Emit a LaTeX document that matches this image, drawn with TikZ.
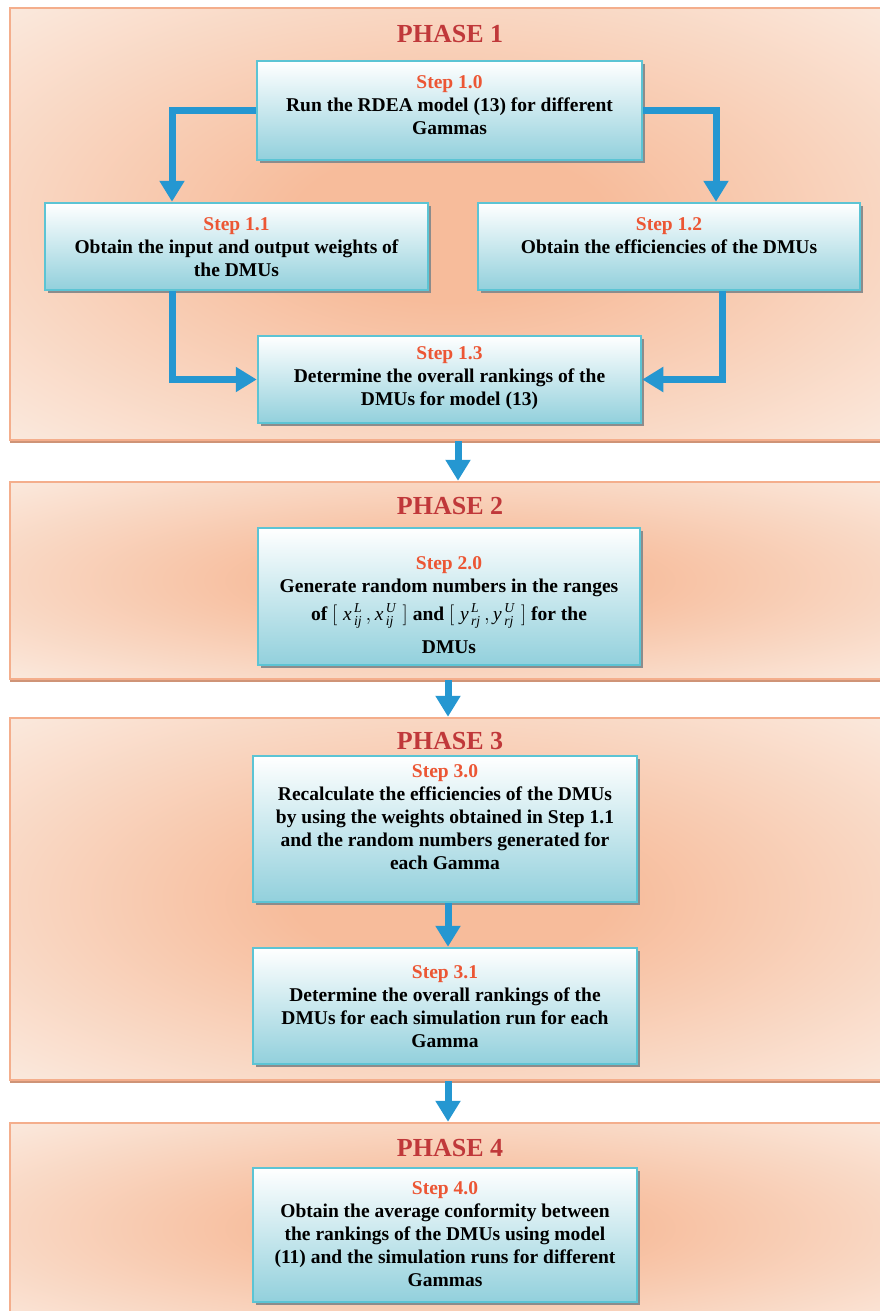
\documentclass[tikz,border=0pt]{standalone}
\usepackage{amsmath}
\usepackage{fontspec}
\setmainfont{Liberation Serif}
\usetikzlibrary{arrows.meta,shadows,positioning}

\definecolor{panelmid}{RGB}{247,188,155}
\definecolor{paneledge}{RGB}{251,239,230}
\definecolor{panelline}{RGB}{244,174,140}
\definecolor{boxline}{RGB}{92,196,212}
\definecolor{boxfoot}{RGB}{146,208,220}
\definecolor{flowblue}{RGB}{37,151,209}
\definecolor{phasered}{RGB}{192,56,58}
\definecolor{steporange}{RGB}{236,86,52}

\pgfdeclareradialshading{panelglow}{\pgfpoint{0bp}{0bp}}{color(0bp)=(panelmid); color(9bp)=(panelmid); color(39bp)=(paneledge); color(72bp)=(paneledge)}

\newcommand{\rvar}[1]{\textmd{\textit{#1}}}

\begin{document}
\begin{tikzpicture}[x=1pt, y=-1pt,
  phasebox/.style={draw=panelline, line width=2.5pt, shade, shading=panelglow, minimum width=880pt,
    drop shadow={shadow xshift=0pt, shadow yshift=-3pt, fill=panelline!85!black, opacity=1}},
  phasetitle/.style={text=phasered, font=\fontsize{26}{30}\selectfont\bfseries},
  stepbox/.style={draw=boxline, line width=2.5pt, top color=white, bottom color=boxfoot,
    drop shadow={shadow xshift=3pt, shadow yshift=-3pt, fill=black!45, opacity=1}},
  steptext/.style={align=center, font=\fontsize{19.5}{23}\selectfont\bfseries},
  flow/.style={draw=flowblue, line width=7pt, -{Triangle[width=24pt,length=21pt]}}]
\fill[white] (0,0) rectangle (879,1311);
\useasboundingbox (0,0) rectangle (879,1311);

% phases
\node[phasebox, minimum height=432pt] (p1) at (450,224) {};
\node[phasebox, minimum height=197pt] (p2) at (450,580.5) {};
\node[phasebox, minimum height=362pt] (p3) at (450,899) {};
\node[phasebox, minimum height=210pt] (p4) at (450,1228) {};
\node[phasetitle] (t1) at (450,34) {PHASE 1};
\node[phasetitle] (t2) at (450,506) {PHASE 2};
\node[phasetitle] (t3) at (450,741) {PHASE 3};
\node[phasetitle] (t4) at (450,1148) {PHASE 4};

% steps
\node[stepbox, minimum width=385pt, minimum height=99pt] (s10) at (449.5,110.5) {};
\node[steptext] (s10t) at (449.5,105.5) {\textcolor{steporange}{Step 1.0}\\Run the RDEA model (13) for different\\Gammas};
\node[stepbox, minimum width=383pt, minimum height=87pt] (s11) at (236.5,246.5) {};
\node[steptext] (s11t) at (236.5,247) {\textcolor{steporange}{Step 1.1}\\Obtain the input and output weights of\\the DMUs};
\node[stepbox, minimum width=382pt, minimum height=87pt] (s12) at (669,246.5) {};
\node[steptext] (s12t) at (669,235.5) {\textcolor{steporange}{Step 1.2}\\Obtain the efficiencies of the DMUs};
\node[stepbox, minimum width=383pt, minimum height=87pt] (s13) at (449.5,379.5) {};
\node[steptext] (s13t) at (449.5,378) {\textcolor{steporange}{Step 1.3}\\Determine the overall rankings of the\\DMUs for model (13)};
\node[stepbox, minimum width=382pt, minimum height=137pt] (s20) at (449,596.5) {};
\node[steptext] (s20t) at (449,605) {\textcolor{steporange}{Step 2.0}\\Generate random numbers in the ranges\\[5pt]
  of $[\;\rvar{x}^{\,\rvar{L}}_{\,\rvar{ij}}\,,\rvar{x}^{\,\rvar{U}}_{\,\rvar{ij}}\;]$ and $[\;\rvar{y}^{\,\rvar{L}}_{\,\rvar{rj}}\,,\rvar{y}^{\,\rvar{U}}_{\,\rvar{rj}}\;]$ for the\\[10pt]DMUs};
\node[stepbox, minimum width=384pt, minimum height=146pt] (s30) at (445,829) {};
\node[steptext] (s30t) at (445,817) {\textcolor{steporange}{Step 3.0}\\Recalculate the efficiencies of the DMUs\\by using the weights obtained in Step 1.1\\and the random numbers generated for\\each Gamma};
\node[stepbox, minimum width=384pt, minimum height=116pt] (s31) at (445,1006) {};
\node[steptext] (s31t) at (445,1006.5) {\textcolor{steporange}{Step 3.1}\\Determine the overall rankings of the\\DMUs for each simulation run for each\\Gamma};
\node[stepbox, minimum width=384pt, minimum height=134pt] (s40) at (445,1235) {};
\node[steptext] (s40t) at (445,1234) {\textcolor{steporange}{Step 4.0}\\Obtain the average conformity between\\the rankings of the DMUs using model\\(11) and the simulation runs for different\\Gammas};

% flow
\draw[flow] (s10.west) -| ([xshift=-64.5pt]s11.north);
\draw[flow] (s10.east) -| ([xshift=47pt]s12.north);
\draw[flow] ([xshift=-64.5pt]s11.south) |- (s13.west);
\draw[flow] ([xshift=53pt]s12.south) |- (s13.east);
\draw[flow] ([xshift=3pt]s30.south) -- ([xshift=3pt]s31.north);
\draw[flow] ([xshift=8pt]p1.south) -- ([xshift=8pt]p2.north);
\draw[flow] ([xshift=-2pt]p2.south) -- ([xshift=-2pt]p3.north);
\draw[flow] ([xshift=-2pt]p3.south) -- ([xshift=-2pt]p4.north);
\end{tikzpicture}
\end{document}
